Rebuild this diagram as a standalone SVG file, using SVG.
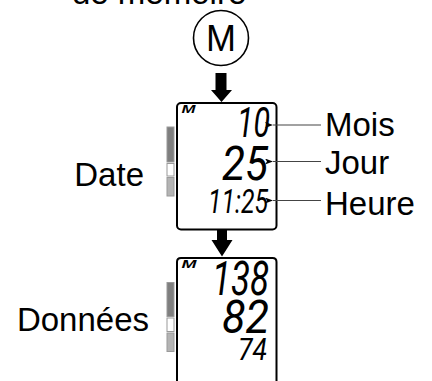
<svg xmlns="http://www.w3.org/2000/svg" width="432" height="381" viewBox="0 0 432 381">
<defs>
<style>
.lbl{font-family:"Liberation Sans",Arial,sans-serif;font-size:33px;fill:#000}
.lcd{font-family:Roboto,"Liberation Sans",Arial,sans-serif;font-style:italic;font-weight:400;fill:#000}
.m{font-family:"Liberation Sans",Arial,sans-serif;font-style:italic;font-weight:bold;font-size:10px;fill:#000}
.box{fill:#fff;stroke:#000;stroke-width:2}
.dk{fill:#7f7f7f;stroke:#9a9a9a;stroke-width:1}
.wh{fill:#fff;stroke:#9a9a9a;stroke-width:1}
.lt{fill:#b4b4b4;stroke:#9a9a9a;stroke-width:1}
.lead{stroke:#444;stroke-width:1.2;fill:none}
.big{fill:#000}
</style>
<marker id="ah" viewBox="0 0 8 6" refX="0" refY="3" markerWidth="8" markerHeight="6" markerUnits="userSpaceOnUse" orient="auto">
<path d="M0,3 L8,0 L6,3 L8,6 Z" fill="#000"/>
</marker>
</defs>

<text class="lbl" x="72" y="4">de mémoire</text>

<g id="button-m">
<circle cx="221" cy="38" r="27.5" fill="#fff" stroke="#000" stroke-width="1.6"/>
<text x="221" y="51" text-anchor="middle" style="font-family:'Liberation Sans',Arial,sans-serif;font-size:36px">M</text>
</g>

<g id="screen-date">
<rect class="box" x="177" y="103" width="99.5" height="126.5" rx="4"/>
<text class="m" x="181.5" y="113" textLength="14" lengthAdjust="spacingAndGlyphs">M</text>
<text class="lcd" x="270" y="137" text-anchor="end" font-size="43" textLength="33" lengthAdjust="spacingAndGlyphs">10</text>
<text class="lcd" x="268" y="180" text-anchor="end" font-size="48" textLength="46" lengthAdjust="spacingAndGlyphs">25</text>
<text class="lcd" x="268" y="213" text-anchor="end" font-size="34" textLength="60" lengthAdjust="spacingAndGlyphs">11:25</text>
<rect class="dk" x="167" y="127" width="7" height="35"/>
<rect class="wh" x="167" y="163.5" width="7" height="12.5"/>
<rect class="lt" x="167" y="177.5" width="7" height="18.5"/>
<text class="lbl" x="144" y="186" text-anchor="end">Date</text>
</g>

<g id="screen-data">
<path class="box" d="M177,382 V262 Q177,258 181,258 H272.5 Q276.5,258 276.5,262 V382"/>
<text class="m" x="181.5" y="268" textLength="15" lengthAdjust="spacingAndGlyphs">M</text>
<text class="lcd" x="269" y="295" text-anchor="end" font-size="48" textLength="57" lengthAdjust="spacingAndGlyphs">138</text>
<text class="lcd" x="269" y="333" text-anchor="end" font-size="46" textLength="47" lengthAdjust="spacingAndGlyphs">82</text>
<text class="lcd" x="267" y="360" text-anchor="end" font-size="31" textLength="29" lengthAdjust="spacingAndGlyphs">74</text>
<rect class="dk" x="167" y="282.5" width="7" height="34"/>
<rect class="wh" x="167" y="318" width="7" height="13.5"/>
<rect class="lt" x="167" y="333" width="7" height="18.5"/>
<text class="lbl" x="149" y="331" text-anchor="end">Données</text>
</g>

<g id="label-mois"><text class="lbl" x="325" y="136">Mois</text></g>
<g id="label-jour"><text class="lbl" x="325" y="174">Jour</text></g>
<g id="label-heure"><text class="lbl" x="325" y="215">Heure</text></g>

<g id="connectors">
<path class="big" d="M215.5,73 H226.5 V90 H232 L221.5,102 L211,90 H215.5 Z"/>
<path class="big" d="M217,230 H227 V240 H232.5 L222,256.5 L211.5,240 H217 Z"/>
<line class="lead" x1="321" y1="125" x2="273" y2="125" marker-end="url(#ah)"/>
<line class="lead" x1="321" y1="161.5" x2="273" y2="161.5" marker-end="url(#ah)"/>
<line class="lead" x1="321" y1="200.5" x2="273" y2="200.5" marker-end="url(#ah)"/>
</g>
</svg>
